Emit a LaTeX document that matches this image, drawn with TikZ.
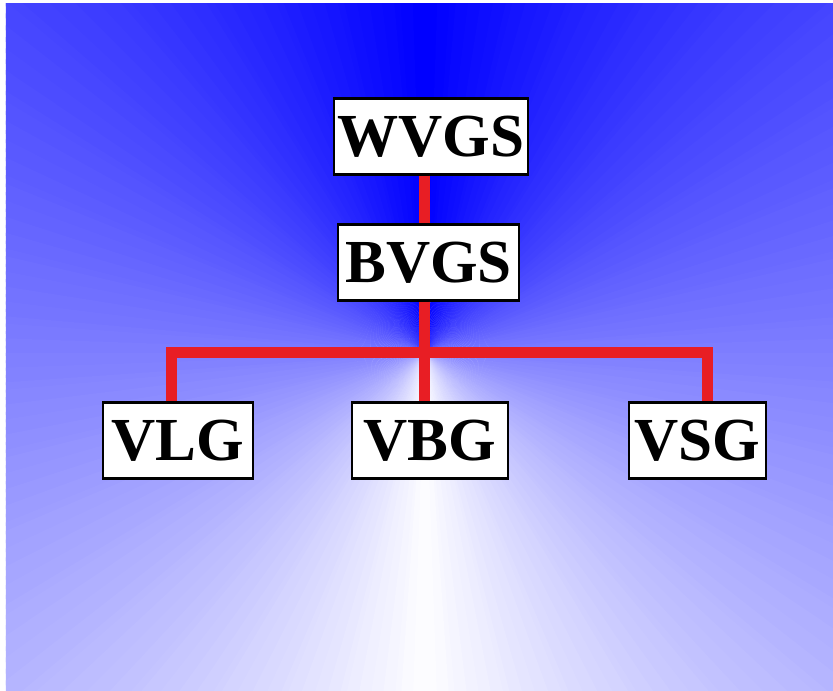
\documentclass[tikz,border=0pt]{standalone}
\usepackage{fontspec}
\setmainfont{Liberation Serif}
\usepackage{tikz}
\definecolor{linered}{RGB}{232,30,36}

\begin{document}
\begin{tikzpicture}[
    box/.style={draw=black, line width=0.6pt, fill=white, inner sep=0pt, minimum height=0.76cm, font=\fontsize{17.4}{20}\selectfont\bfseries},
    wire/.style={draw=linered, line width=0.11cm}
  ]
  % Background
  \useasboundingbox (0,0) rectangle (8.33,6.91);
  \fill[white] (0,0) rectangle (8.33,6.91);
  \coordinate (hub) at (4.25,3.38);
  \begin{scope}
    \clip (0.06,0) rectangle (8.33,6.87);
    \foreach \a in {0,...,179} {
      \pgfmathtruncatemacro{\w}{(\a+0.5)/1.8}
      \pgfmathsetmacro{\b}{\a+1.4}
      \fill[white!\w!blue] (hub) -- +(90-\a:12) -- +(90-\b:12) -- cycle;
      \fill[white!\w!blue] (hub) -- +(90+\a:12) -- +(90+\b:12) -- cycle;
    }
  \end{scope}

  % Nodes
  \node[box, minimum width=1.94cm] (wvgs) at (4.31,5.545) {WVGS};
  \node[box, minimum width=1.81cm] (bvgs) at (4.285,4.285) {BVGS};
  \node[box, minimum width=1.50cm] (vlg) at (1.78,2.505) {VLG};
  \node[box, minimum width=1.56cm] (vbg) at (4.30,2.505) {VBG};
  \node[box, minimum width=1.37cm] (vsg) at (6.975,2.505) {VSG};
  \coordinate (lknee) at (1.72,3.38);
  \coordinate (rknee) at (7.08,3.38);

  % Edges
  \draw[wire] (wvgs.south -| hub) -- (bvgs.north -| hub);
  \draw[wire] (bvgs.south -| hub) -- (vbg.north -| hub);
  \draw[wire] (vlg.north -| lknee) -- (lknee) -- (rknee) -- (vsg.north -| rknee);
\end{tikzpicture}
\end{document}
